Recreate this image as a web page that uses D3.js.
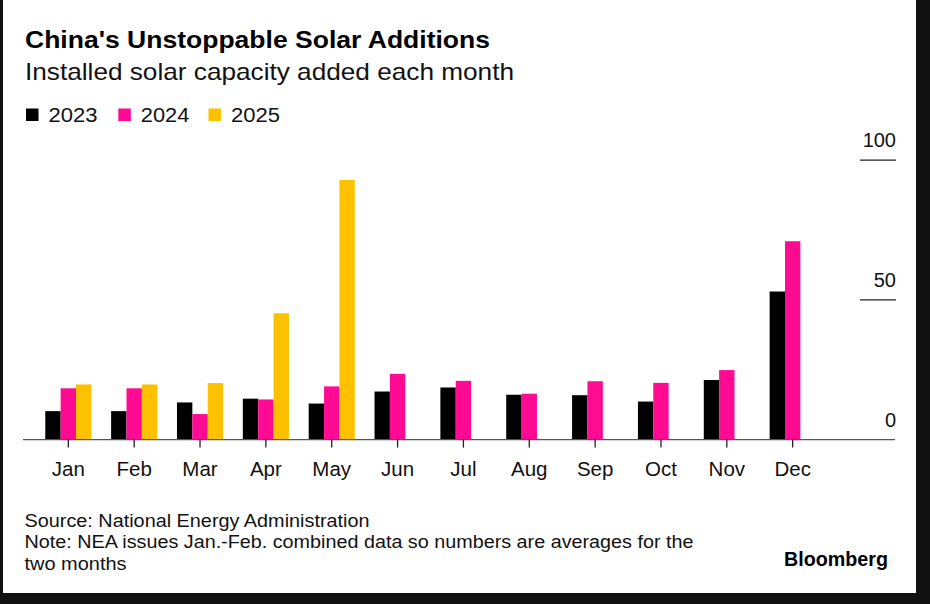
<!DOCTYPE html>
<html><head><meta charset="utf-8">
<script src="https://cdn.jsdelivr.net/npm/d3@7"></script>
<style>
html,body{margin:0;padding:0;background:#111;}
svg{display:block;font-family:"Liberation Sans",Arial,sans-serif;}
</style></head>
<body>
<svg id="c" width="930" height="604"></svg>
<script>
const months = ["Jan","Feb","Mar","Apr","May","Jun","Jul","Aug","Sep","Oct","Nov","Dec"];
const seriesNames = ["2023","2024","2025"];
const v2023 = [10.19,10.19,13.3,14.65,12.9,17.21,18.66,16.06,15.89,13.62,21.32,53.0];
const v2024 = [18.36,18.36,9.14,14.37,19.04,23.53,21.03,16.43,20.89,20.3,24.88,71.0];
const v2025 = [19.74,19.74,20.24,45.22,92.92,null,null,null,null,null,null,null];
const colors = ["#000000","#ff0a93","#fdc100"];
const yTicks = [0,50,100];

const svg = d3.select("#c");
// card background (screenshot frame)
svg.append("rect").attr("x",3).attr("y",0).attr("width",913).attr("height",593).attr("fill","#ffffff");

const x = d3.scaleBand().domain(months).range([35.4,825.6]).paddingInner(0.3).paddingOuter(0.15);
const xs = d3.scaleBand().domain(seriesNames).range([0,x.bandwidth()]).padding(0);
const y = d3.scaleLinear().domain([0,100]).range([439.6,160.2]);

const data = [v2023,v2024,v2025];
const g = svg.append("g");
data.forEach((arr,si)=>{
  g.selectAll(null).data(months.map((m,i)=>({m,v:arr[i]})).filter(d=>d.v!=null))
   .enter().append("rect")
   .attr("x",d=>x(d.m)+xs(seriesNames[si]))
   .attr("width",xs.bandwidth())
   .attr("y",d=>y(d.v))
   .attr("height",d=>y(0)-y(d.v))
   .attr("fill",colors[si]);
});

// baseline
svg.append("line").attr("x1",23).attr("x2",895).attr("y1",y(0)).attr("y2",y(0))
  .attr("stroke","#555").attr("stroke-width",1.2);

// x axis ticks and labels
const xa = svg.append("g").attr("transform",`translate(0,${y(0)})`)
  .call(d3.axisBottom(x).tickSize(8).tickPadding(14).tickSizeOuter(0));
xa.select(".domain").remove();
xa.selectAll(".tick line").attr("stroke","#222").attr("stroke-width",1.3);
xa.selectAll(".tick text").attr("font-size",20.5).attr("fill","#111").attr("font-family","Liberation Sans, Arial, sans-serif");

// y gridlines (short) and labels
const yg = svg.append("g");
yTicks.filter(t=>t>0).forEach(t=>{
  yg.append("line").attr("x1",860).attr("x2",896).attr("y1",y(t)).attr("y2",y(t))
    .attr("stroke","#222").attr("stroke-width",1.2);
});
yTicks.forEach(t=>{
  yg.append("text").attr("x",896).attr("y",y(t)-13).attr("text-anchor","end")
    .attr("font-size",20).attr("fill","#111").text(t);
});

function fitText(sel, len){ return sel.attr("textLength",len).attr("lengthAdjust","spacingAndGlyphs"); }

// title & subtitle
fitText(svg.append("text").attr("x",25).attr("y",47.5).attr("font-size",24).attr("font-weight","bold")
  .attr("fill","#000").text("China's Unstoppable Solar Additions"), 465);
fitText(svg.append("text").attr("x",25).attr("y",80).attr("font-size",24).attr("fill","#111")
  .text("Installed solar capacity added each month"), 489);

// legend
const legX = [26,118.3,208.5];
const legW = [49,48.5,49];
seriesNames.forEach((s,i)=>{
  svg.append("rect").attr("x",legX[i]).attr("y",108.5).attr("width",12.5).attr("height",12.5).attr("fill",colors[i]);
  fitText(svg.append("text").attr("x",legX[i]+22.5).attr("y",121.7).attr("font-size",20).attr("fill","#111").text(s), legW[i]);
});

// footer
fitText(svg.append("text").attr("x",24.5).attr("y",526.7).attr("font-size",17.5).attr("fill","#111")
  .text("Source: National Energy Administration"), 345);
fitText(svg.append("text").attr("x",24.5).attr("y",548).attr("font-size",17.5).attr("fill","#111")
  .text("Note: NEA issues Jan.-Feb. combined data so numbers are averages for the"), 669);
fitText(svg.append("text").attr("x",24.5).attr("y",569.5).attr("font-size",17.5).attr("fill","#111")
  .text("two months"), 102);
fitText(svg.append("text").attr("x",784).attr("y",566).attr("font-size",20)
  .attr("font-weight","bold").attr("fill","#000").text("Bloomberg"), 104);
</script>
</body></html>
